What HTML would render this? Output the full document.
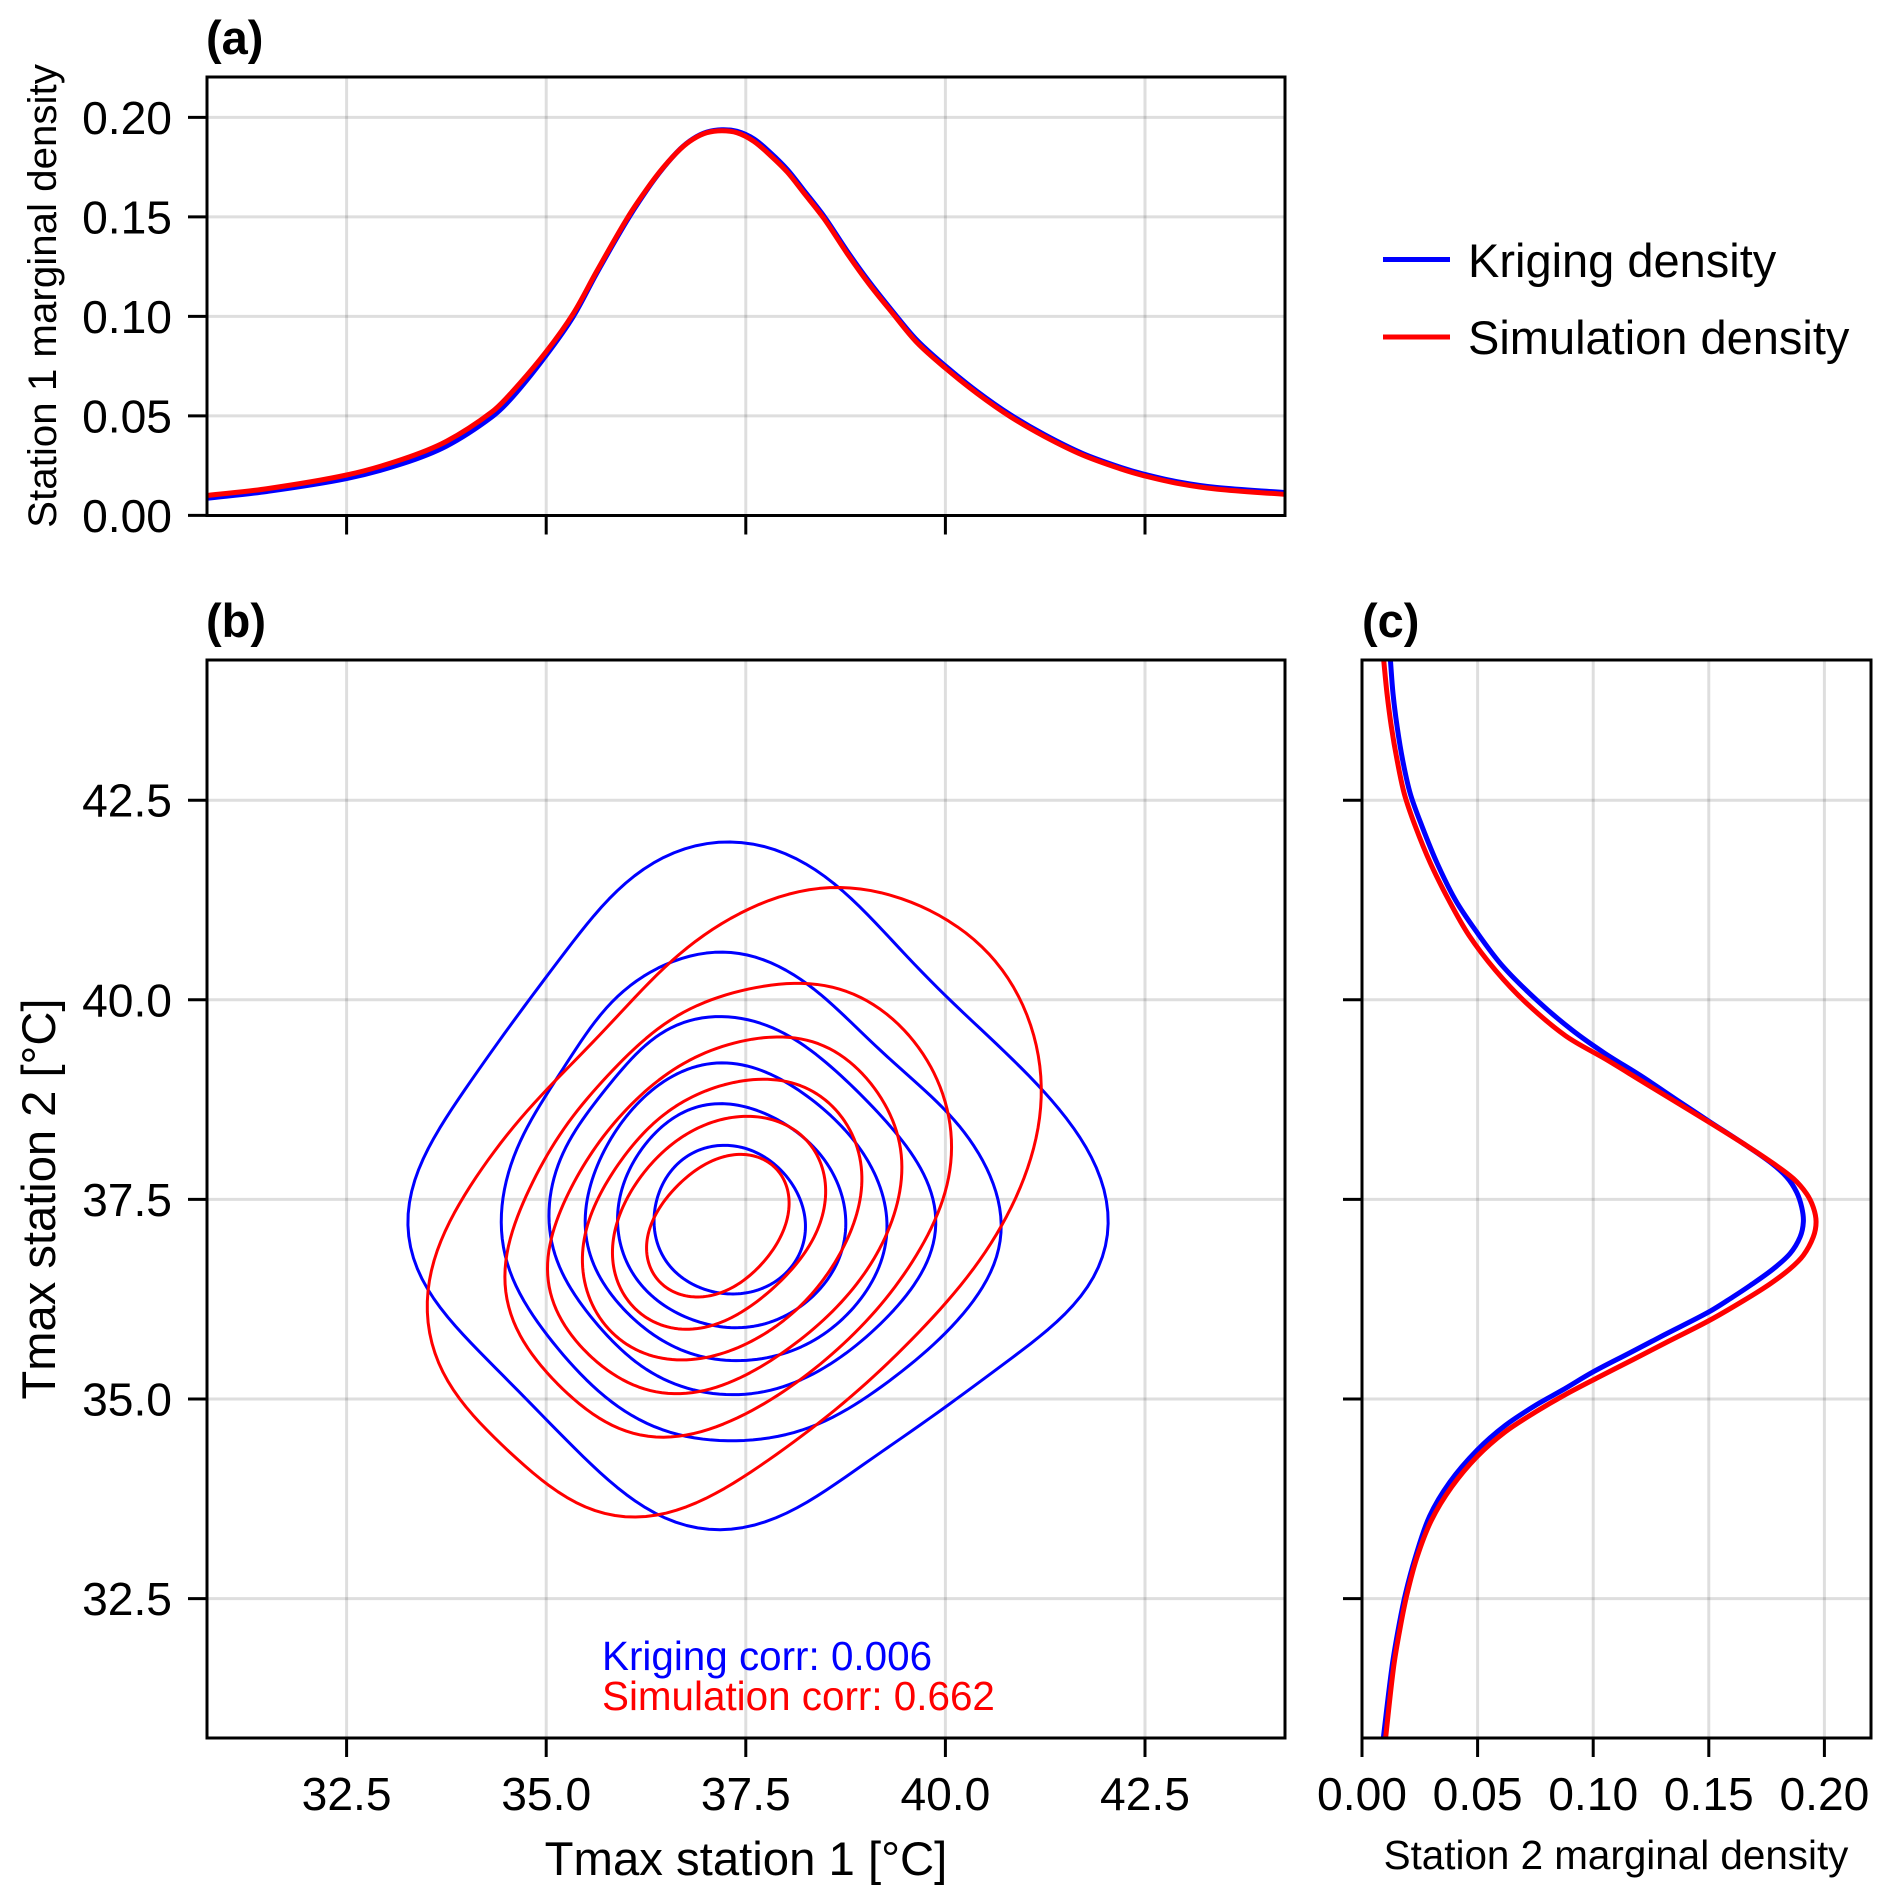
<!DOCTYPE html>
<html lang="en">
<head>
<meta charset="utf-8">
<title>Kriging and simulation density comparison</title>
<style>
html,body{margin:0;padding:0;background:#fff;}
svg{display:block;font-family:"Liberation Sans",Arial,sans-serif;}
text{fill:#000;}
</style>
</head>
<body>
<svg id="chart" xmlns="http://www.w3.org/2000/svg" width="1892" height="1904" viewBox="0 0 1892 1904">
  <defs>
    <clipPath id="clip-a"><rect x="207" y="77" width="1078" height="438.5"/></clipPath>
    <clipPath id="clip-b"><rect x="207" y="660" width="1078" height="1078"/></clipPath>
    <clipPath id="clip-c"><rect x="1362" y="660" width="509" height="1078"/></clipPath>
  </defs>
  <rect x="0" y="0" width="1892" height="1904" fill="#fff"/>
  <g id="layer-grid"></g>
  <g id="layer-a" clip-path="url(#clip-a)"></g>
  <g id="layer-b" clip-path="url(#clip-b)"></g>
  <g id="layer-c" clip-path="url(#clip-c)"></g>
  <g id="layer-ticks"></g>
  <rect x="207" y="77" width="1078" height="438.5" fill="none" stroke="#000" stroke-width="3"/>
  <rect x="207" y="660" width="1078" height="1078" fill="none" stroke="#000" stroke-width="3"/>
  <rect x="1362" y="660" width="509" height="1078" fill="none" stroke="#000" stroke-width="3"/>

  <text x="206" y="54" font-size="47" font-weight="bold">(a)</text>
  <text x="206" y="637" font-size="47" font-weight="bold">(b)</text>
  <text x="1362" y="637" font-size="47" font-weight="bold">(c)</text>

  <text transform="translate(56 296) rotate(-90)" text-anchor="middle" font-size="40.3">Station 1 marginal density</text>
  <text transform="translate(55 1199) rotate(-90)" text-anchor="middle" font-size="47.1">Tmax station 2 [°C]</text>
  <text x="746" y="1875" text-anchor="middle" font-size="47.3">Tmax station 1 [°C]</text>
  <text x="1616" y="1869" text-anchor="middle" font-size="40.4">Station 2 marginal density</text>

  <text x="602" y="1670" font-size="40.4" style="fill:#0000ff">Kriging corr: 0.006</text>
  <text x="602" y="1710" font-size="40.4" style="fill:#ff0000">Simulation corr: 0.662</text>

  <g>
    <line x1="1383" y1="259.5" x2="1450" y2="259.5" stroke="#0000ff" stroke-width="5"/>
    <text x="1468" y="277" font-size="47">Kriging density</text>
    <line x1="1383" y1="337" x2="1450" y2="337" stroke="#ff0000" stroke-width="5"/>
    <text x="1468" y="354" font-size="47">Simulation density</text>
  </g>
</svg>

<script>
// ---- Tick values and labels ----
const tempTicks = [32.5, 35.0, 37.5, 40.0, 42.5];
const tempTickLabels = ["32.5", "35.0", "37.5", "40.0", "42.5"];
const densityTicks = [0, 0.05, 0.10, 0.15, 0.20];
const densityTickLabels = ["0.00", "0.05", "0.10", "0.15", "0.20"];

// ---- Panel (a): Station 1 marginal density ----
const station1Temp = [30.75,31.5,32.5,33.2,33.75,34.32,34.59,35,35.34,35.63,36.01,36.26,36.47,36.68,36.84,37.01,37.2,37.39,37.6,37.81,38.02,38.22,38.48,38.77,39.04,39.33,39.64,40,40.4,40.81,41.24,41.72,42.2,42.5,42.92,43.4,44.24];
const station1Kriging = [.0086,.0120,.0185,.0260,.0348,.0495,.0600,.0805,.1000,.1215,.1480,.1635,.1748,.1842,.1893,.1926,.1938,.1930,.1892,.1822,.1738,.1637,.1503,.1328,.1177,.1030,.0882,.0751,.0622,.0507,.0406,.0311,.0241,.0206,.0168,.0140,.0115];
const station1Simulation = [.0100,.0134,.0203,.0282,.0372,.0520,.0628,.0823,.1015,.1225,.1490,.1640,.1750,.1841,.1891,.1923,.1933,.1923,.1880,.1808,.1725,.1624,.1491,.1316,.1165,.1020,.0870,.0740,.0612,.0497,.0397,.0303,.0233,.0198,.0160,.0132,.0106];

// ---- Panel (c): Station 2 marginal density ----
const station2KrigingTemp = [44.25,43.84,43.42,43.0,42.58,42.17,41.71,41.25,40.87,40.43,39.99,39.62,39.33,39.05,38.74,38.48,38.20,37.97,37.78,37.59,37.40,37.22,37.03,36.82,36.63,36.42,36.28,36.09,35.80,35.57,35.34,35.11,34.92,34.67,34.36,33.96,33.53,33.02,32.56,32.15,31.65,30.70];
const station2KrigingDensity = [.0123,.0134,.0152,.0176,.0209,.0260,.0325,.0404,.0491,.0606,.0758,.0909,.1050,.1205,.1365,.1500,.1649,.1764,.1837,.1880,.1902,.1909,.1895,.1851,.1779,.1678,.1605,.1500,.1305,.1153,.1000,.0866,.0750,.0620,.0498,.0380,.0292,.0231,.0188,.0159,.0130,.0090];
const station2SimulationTemp = [44.25,43.84,43.42,43.0,42.58,42.17,41.71,41.25,40.81,40.37,39.97,39.55,39.26,38.99,38.72,38.47,38.20,37.95,37.76,37.57,37.40,37.22,37.03,36.80,36.63,36.44,36.23,35.98,35.72,35.49,35.26,35.05,34.84,34.59,34.28,33.90,33.48,33.02,32.56,32.15,31.65,30.70];
const station2SimulationDensity = [.0094,.0108,.0127,.0152,.0183,.0231,.0296,.0375,.0462,.0577,.0707,.0880,.1052,.1205,.1358,.1500,.1649,.1779,.1866,.1923,.1952,.1964,.1952,.1909,.1851,.1764,.1649,.1500,.1324,.1170,.1014,.0876,.0752,.0620,.0498,.0388,.0300,.0238,.0195,.0166,.0137,.0100];

// ---- Panel (b): Kriging contours (x = station 1, y = station 2) ----
const kriging1X = [37.30,37.77,38.26,38.68,39.11,39.59,40.20,40.81,41.23,41.66,41.96,42.04,41.96,41.66,41.23,40.69,40.02,39.29,38.68,38.08,37.59,37.14,36.74,36.38,35.95,35.53,34.98,34.44,33.95,33.53,33.34,33.27,33.34,33.59,33.95,34.44,34.98,35.53,36.01,36.50,36.92];
const kriging1Y = [41.97,41.91,41.71,41.38,40.98,40.47,39.86,39.28,38.86,38.31,37.71,37.19,36.74,36.25,35.83,35.40,34.92,34.40,33.97,33.61,33.42,33.36,33.42,33.55,33.85,34.22,34.76,35.31,35.83,36.34,36.74,37.19,37.71,38.25,38.83,39.53,40.25,40.98,41.47,41.80,41.94];
const kriging2X = [37.21,37.65,38.08,38.50,38.99,39.53,40.07,40.44,40.66,40.70,40.63,40.32,39.90,39.29,38.62,37.96,37.23,36.68,36.07,35.53,35.04,34.68,34.48,34.44,34.51,34.74,35.04,35.47,35.95,36.50,36.86];
const kriging2Y = [40.60,40.53,40.32,40.01,39.56,39.04,38.56,38.01,37.52,37.16,36.74,36.19,35.73,35.22,34.79,34.54,34.48,34.55,34.79,35.22,35.76,36.31,36.80,37.22,37.77,38.37,38.86,39.53,40.10,40.44,40.56];
const kriging3X = [37.20,37.65,38.14,38.62,39.05,39.44,39.78,39.88,39.78,39.47,38.99,38.44,37.83,37.26,36.68,36.13,35.65,35.25,35.07,35.04,35.13,35.41,35.83,36.32,36.80];
const kriging3Y = [39.79,39.71,39.50,39.10,38.71,38.25,37.71,37.22,36.74,36.25,35.76,35.37,35.11,35.06,35.16,35.46,35.92,36.49,36.92,37.28,37.89,38.43,38.98,39.50,39.74];
const kriging4X = [37.20,37.59,37.96,38.38,38.74,39.08,39.26,39.23,38.99,38.56,38.08,37.29,36.68,36.20,35.77,35.53,35.49,35.59,35.83,36.26,36.68];
const kriging4Y = [39.21,39.15,38.99,38.71,38.37,37.89,37.34,36.86,36.31,35.89,35.59,35.49,35.61,35.92,36.37,36.86,37.28,37.77,38.31,38.80,39.10];
const kriging5X = [37.21,37.59,37.96,38.32,38.59,38.74,38.71,38.47,38.14,37.71,37.29,36.80,36.38,36.04,35.90,35.95,36.20,36.56,36.86];
const kriging5Y = [38.70,38.63,38.46,38.19,37.83,37.34,36.86,36.43,36.13,35.93,35.90,36.00,36.25,36.64,37.16,37.65,38.13,38.50,38.65];
const kriging6X = [37.21,37.53,37.86,38.14,38.25,38.15,37.89,37.59,37.29,36.92,36.56,36.38,36.35,36.44,36.68,36.95];
const kriging6Y = [38.18,38.12,37.95,37.58,37.19,36.77,36.49,36.34,36.32,36.40,36.64,37.01,37.28,37.65,37.98,38.13];

// ---- Panel (b): Simulation contours ----
const simulation1X = [38.68,39.23,39.78,40.26,40.69,40.99,41.16,41.20,41.11,40.87,40.63,40.20,39.71,39.17,38.56,37.89,37.29,36.80,36.38,36.10,35.65,35.22,34.68,34.19,33.77,33.56,33.51,33.59,33.83,34.19,34.62,35.04,35.65,36.32,36.92,37.53,38.14];
const simulation1Y = [41.41,41.33,41.13,40.83,40.41,39.89,39.28,38.74,38.13,37.52,37.04,36.43,35.89,35.34,34.82,34.31,33.91,33.67,33.55,33.52,33.58,33.79,34.22,34.67,35.22,35.76,36.19,36.74,37.28,37.89,38.43,38.92,39.53,40.25,40.77,41.13,41.35];
const simulation2X = [38.20,38.68,39.17,39.59,39.93,40.08,39.99,39.71,39.29,38.74,38.14,37.47,36.86,36.41,35.95,35.41,34.92,34.59,34.48,34.56,34.80,35.13,35.65,36.20,36.80,37.53];
const simulation2Y = [40.21,40.13,39.89,39.50,38.92,38.19,37.58,36.92,36.31,35.70,35.22,34.79,34.58,34.52,34.61,34.95,35.43,35.98,36.49,37.04,37.65,38.25,38.92,39.47,39.89,40.13];
const simulation3X = [37.96,38.38,38.80,39.17,39.41,39.45,39.35,39.05,38.62,38.08,37.53,37.05,36.59,36.13,35.65,35.25,35.04,35.02,35.13,35.41,35.83,36.32,36.86,37.41];
const simulation3Y = [39.53,39.47,39.22,38.80,38.31,37.89,37.28,36.67,36.13,35.67,35.31,35.13,35.07,35.15,35.46,35.89,36.37,36.74,37.22,37.83,38.43,38.92,39.28,39.47];
const simulation4X = [37.77,38.14,38.50,38.80,38.94,38.93,38.71,38.38,37.96,37.41,36.68,36.20,35.77,35.53,35.45,35.53,35.83,36.26,36.74,37.29];
const simulation4Y = [39.00,38.95,38.74,38.37,37.95,37.46,36.89,36.37,35.98,35.64,35.49,35.58,35.89,36.31,36.74,37.22,37.83,38.37,38.74,38.95];
const simulation5X = [37.56,37.89,38.23,38.44,38.50,38.41,38.17,37.83,37.35,36.80,36.38,36.01,35.84,35.86,36.13,36.50,36.98];
const simulation5Y = [38.54,38.48,38.28,37.95,37.58,37.16,36.74,36.37,36.04,35.87,35.95,36.25,36.67,37.10,37.71,38.13,38.43];
const simulation6X = [37.41,37.71,37.96,38.03,37.96,37.71,37.35,36.86,36.50,36.29,36.26,36.41,36.71,37.08];
const simulation6Y = [38.06,38.01,37.80,37.43,37.07,36.71,36.40,36.28,36.40,36.67,36.98,37.37,37.74,37.98];

const krigingContours = [[kriging1X,kriging1Y],[kriging2X,kriging2Y],[kriging3X,kriging3Y],[kriging4X,kriging4Y],[kriging5X,kriging5Y],[kriging6X,kriging6Y]];
const simulationContours = [[simulation1X,simulation1Y],[simulation2X,simulation2Y],[simulation3X,simulation3Y],[simulation4X,simulation4Y],[simulation5X,simulation5Y],[simulation6X,simulation6Y]];

// ---- Axis functions ----
const NS = 'http://www.w3.org/2000/svg';
function xTemp(v){ return 346.6 + (v - 32.5) * 79.84; }
function yTemp(v){ return 1199.4 - (v - 37.5) * 79.84; }
function yDensity(d){ return 515.4 - d * 1990; }
function xDensity(d){ return 1362 + d * 2312; }

function make(tag, attrs){
  const e = document.createElementNS(NS, tag);
  for (const k in attrs) e.setAttribute(k, attrs[k]);
  return e;
}
function fmt(n){ return n.toFixed(2); }
function dist(a, b){ return Math.hypot(b[0] - a[0], b[1] - a[1]); }

// Chord-aware tangent at p1, given its neighbours
function tangent(p0, p1, p2){
  const s = dist(p0, p1) + dist(p1, p2) || 1;
  return [(p2[0] - p0[0]) / s, (p2[1] - p0[1]) / s];
}

// Open curve: cubic Bezier segments with chord-aware tangents
function openPath(pts){
  const n = pts.length;
  const at = i => pts[Math.max(0, Math.min(n - 1, i))];
  let d = 'M' + fmt(pts[0][0]) + ' ' + fmt(pts[0][1]);
  for (let i = 0; i < n - 1; i++){
    const p1 = at(i), p2 = at(i + 1), L = dist(p1, p2);
    const m1 = tangent(at(i - 1), p1, p2), m2 = tangent(p1, p2, at(i + 2));
    d += 'C' + fmt(p1[0] + m1[0] * L / 3) + ' ' + fmt(p1[1] + m1[1] * L / 3) + ' ' +
         fmt(p2[0] - m2[0] * L / 3) + ' ' + fmt(p2[1] - m2[1] * L / 3) + ' ' + fmt(p2[0]) + ' ' + fmt(p2[1]);
  }
  return d;
}

// Closed contour: spline through the read points, then a low-pass outline
// so that reading noise does not appear as lumps on the ring.
function closedPath(pts){
  const n = pts.length, at = i => pts[(i + n) % n];
  const dense = [];
  for (let i = 0; i < n; i++){
    const p1 = at(i), p2 = at(i + 1), L = dist(p1, p2);
    const m1 = tangent(at(i - 1), p1, p2), m2 = tangent(p1, p2, at(i + 2));
    for (let s = 0; s < 12; s++){
      const u = s / 12, u2 = u * u, u3 = u2 * u;
      const h00 = 2 * u3 - 3 * u2 + 1, h10 = u3 - 2 * u2 + u, h01 = -2 * u3 + 3 * u2, h11 = u3 - u2;
      dense.push([
        h00 * p1[0] + h10 * L * m1[0] + h01 * p2[0] + h11 * L * m2[0],
        h00 * p1[1] + h10 * L * m1[1] + h01 * p2[1] + h11 * L * m2[1]
      ]);
    }
  }
  const M = 180, total = dense.reduce((sum, p, i) => sum + dist(p, dense[(i + 1) % dense.length]), 0);
  const even = [];
  let idx = 0, walked = 0;
  for (let j = 0; j < M; j++){
    const target = total * j / M;
    while (true){
      const a = dense[idx % dense.length], b = dense[(idx + 1) % dense.length], seg = dist(a, b);
      if (walked + seg >= target || idx > dense.length * 2){
        const f = seg ? (target - walked) / seg : 0;
        even.push([a[0] + (b[0] - a[0]) * f, a[1] + (b[1] - a[1]) * f]);
        break;
      }
      walked += seg;
      idx++;
    }
  }
  const K = Math.min(10, Math.floor(n / 2) - 4);
  const coef = [];
  for (let k = 0; k <= K; k++){
    const c = [0, 0, 0, 0];
    for (let j = 0; j < M; j++){
      const w = 2 * Math.PI * k * j / M, cs = Math.cos(w), sn = Math.sin(w);
      c[0] += even[j][0] * cs; c[1] += even[j][0] * sn;
      c[2] += even[j][1] * cs; c[3] += even[j][1] * sn;
    }
    const scale = k === 0 ? 1 / M : 2 / M;
    coef.push(c.map(v => v * scale));
  }
  let d = '';
  for (let j = 0; j < M; j++){
    let x = 0, y = 0;
    for (let k = 0; k <= K; k++){
      const w = 2 * Math.PI * k * j / M, cs = Math.cos(w), sn = Math.sin(w);
      x += coef[k][0] * cs + coef[k][1] * sn;
      y += coef[k][2] * cs + coef[k][3] * sn;
    }
    d += (j ? 'L' : 'M') + fmt(x) + ' ' + fmt(y);
  }
  return d + 'Z';
}

const layerGrid = document.getElementById('layer-grid');
const layerTicks = document.getElementById('layer-ticks');
const layerA = document.getElementById('layer-a');
const layerB = document.getElementById('layer-b');
const layerC = document.getElementById('layer-c');
const GRID = 'rgba(0,0,0,0.13)';

function addGrid(x1, y1, x2, y2){
  const g = make('line', {x1:x1, y1:y1, x2:x2, y2:y2, stroke:GRID, 'stroke-width':3});
  
  
  layerGrid.appendChild(g);
}
function addTick(x1, y1, x2, y2){
  const t = make('line', {x1:x1, y1:y1, x2:x2, y2:y2, stroke:'#000', 'stroke-width':3});
  
  
  layerTicks.appendChild(t);
}
function addLabel(str, x, y, anchor){
  const t = make('text', {x:x, y:y, 'text-anchor':anchor, 'font-size':46.2});
  
  
  t.textContent = str;
  layerTicks.appendChild(t);
}

// Temperature axes
tempTicks.forEach(function(v, i){
  const px = xTemp(v), py = yTemp(v);
  addGrid(px, 77, px, 515.4);
  addGrid(px, 660, px, 1738);
  addGrid(207, py, 1285, py);
  addGrid(1362, py, 1871, py);
  addTick(px, 515.4, px, 534.5);
  addTick(px, 1738, px, 1757);
  addTick(188, py, 207, py);
  addTick(1343, py, 1362, py);
  addLabel(tempTickLabels[i], px, 1810, 'middle');
  addLabel(tempTickLabels[i], 172, py + 16.5, 'end');
});

// Density axes
densityTicks.forEach(function(d, i){
  const py = yDensity(d), px = xDensity(d);
  if (d > 0){
    addGrid(207, py, 1285, py);
    addGrid(px, 660, px, 1738);
  }
  addTick(188, py, 207, py);
  addTick(px, 1738, px, 1757);
  addLabel(densityTickLabels[i], 172, py + 16.5, 'end');
  addLabel(densityTickLabels[i], px, 1810, 'middle');
});

function addCurve(layer, pathData, color, width, name){
  const p = make('path', {d:pathData, fill:'none', stroke:color, 'stroke-width':width, 'stroke-linejoin':'round'});
  
  
  layer.appendChild(p);
}

// Panel (a)
addCurve(layerA, openPath(station1Temp.map((t, i) => [xTemp(t), yDensity(station1Kriging[i])])), '#0000ff', 5, 'station-1-kriging-density');
addCurve(layerA, openPath(station1Temp.map((t, i) => [xTemp(t), yDensity(station1Simulation[i])])), '#ff0000', 5, 'station-1-simulation-density');

// Panel (b)
krigingContours.forEach(function(c){
  addCurve(layerB, closedPath(c[0].map((x, i) => [xTemp(x), yTemp(c[1][i])])), '#0000ff', 3, 'kriging-contour');
});
simulationContours.forEach(function(c){
  addCurve(layerB, closedPath(c[0].map((x, i) => [xTemp(x), yTemp(c[1][i])])), '#ff0000', 3, 'simulation-contour');
});

// Panel (c)
addCurve(layerC, openPath(station2KrigingTemp.map((t, i) => [xDensity(station2KrigingDensity[i]), yTemp(t)])), '#0000ff', 5, 'station-2-kriging-density');
addCurve(layerC, openPath(station2SimulationTemp.map((t, i) => [xDensity(station2SimulationDensity[i]), yTemp(t)])), '#ff0000', 5, 'station-2-simulation-density');
</script>
</body>
</html>
